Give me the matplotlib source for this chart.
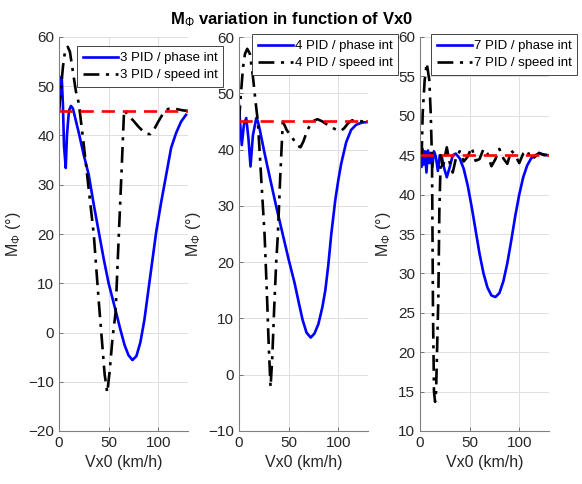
import numpy as np
import matplotlib
matplotlib.use("Agg")
import matplotlib.pyplot as plt

plt.rcParams['font.family'] = ['Liberation Sans', 'DejaVu Sans']
plt.rcParams['mathtext.fontset'] = 'custom'
plt.rcParams['mathtext.rm'] = 'Liberation Sans'
plt.rcParams['mathtext.bf'] = 'Liberation Sans:bold'
plt.rcParams['mathtext.it'] = 'Liberation Sans:italic'

# ---- data (Vx0 in km/h, M_phi in degrees) ----
x_p1_phase = [0, 1, 2.7, 4, 5, 6.8, 8, 10, 12, 14, 17, 20, 25, 30, 35, 40, 45, 50, 57, 62, 66, 70, 74,
              78, 82, 86, 90, 94, 98, 103, 108, 113, 118, 123, 128]
y_p1_phase = [45, 48, 52, 46, 38, 33.4, 40, 45, 46, 45.5, 43, 40.5, 36, 32, 26, 20.5, 15, 10, 4.5, 0.5, -2.5, -4.6, -5.6,
              -4.8, -2, 2.5, 8.5, 14.5, 20.5, 26.5, 32, 37.5, 40.5, 42.8, 44.2]
x_p1_speed = [0, 2, 4, 6, 8.8, 11, 14, 17, 20, 25, 30, 35, 40, 43, 46, 48.6, 51, 54, 57, 60.5, 63, 65.6,
              70, 75, 80, 85, 89, 92, 96, 100, 105, 110, 115, 120, 125, 130]
y_p1_speed = [45, 49.5, 54, 57, 58, 57, 53, 49, 46.5, 38, 29, 20, 6.5, -1, -8.5, -12.2, -8, -1, 4, 20.9, 32.5, 45.2,
              44, 43, 41.8, 40.8, 40.3, 40.3, 41.3, 42.8, 44.5, 45.4, 45.5, 45.3, 45.1, 45]

x_p2_phase = [0, 1, 2.8, 5, 7.3, 9.5, 11.6, 14, 17.4, 19, 21, 25, 29, 33, 38, 44, 50, 56, 60, 64, 68, 72.2,
              76, 80, 84, 87, 90, 93, 97, 100, 103, 108, 113, 118, 124, 130]
y_p2_phase = [47.9, 45, 40.8, 44.5, 45.6, 42, 37, 42.5, 45.6, 45, 43.5, 40, 36.7, 33.5, 29.5, 25, 20.5, 16.3, 13, 9.8, 7.5, 6.6,
              7.3, 9, 12, 15, 19.5, 25, 31, 34.5, 37.5, 41.3, 43.5, 44.4, 44.8, 44.9]
x_p2_speed = [0, 2, 4, 6, 8.3, 11, 14, 17, 19, 22, 25.8, 28, 30, 31.8, 33.5, 35.5, 37.5, 39.2, 41.5, 44.2,
              48, 52, 56, 59, 62, 65, 69, 74, 79, 84, 90, 96, 100, 102.6, 106, 110, 114, 118, 124, 130]
y_p2_speed = [45, 50, 54.5, 57, 57.9, 57, 53, 48, 45, 36, 24.8, 15, 5, -2.2, 3, 12, 20, 25, 35, 45,
              43.5, 42.5, 41.5, 40.7, 40.4, 41.5, 43.5, 45, 45.4, 45, 44.3, 43.7, 43.4, 43.3, 43.8, 44.7, 45.2, 45.2, 45, 45]

x_p3_phase = [0, 0.5, 1.5, 2.5, 3.5, 5, 6.5, 8, 9.5, 11, 12.5, 14, 16, 18, 20, 22, 24, 27, 30, 33, 36, 40, 44, 48,
              52, 56, 60, 64, 68, 72, 76, 80, 84, 88, 92, 96, 100, 104, 108, 112, 116, 120, 125, 129]
y_p3_phase = [45, 46.5, 43.5, 45.8, 43.8, 45.5, 42.8, 45.6, 44, 45.3, 43.5, 45.5, 44.8, 43, 45, 44.8, 43.5, 42.2, 43.5,
              45, 45.2, 44.6, 43.3, 41.2, 38.5, 35.5, 32.5, 30, 28.2, 27.2, 27, 27.5, 29, 31.3, 34.2, 37.3, 40, 42.2,
              43.7, 44.6, 45, 45.2, 45.1, 45]
x_p3_speed = [0, 1.7, 2.7, 4.7, 6.8, 9.4, 10.8, 12.1, 13.1, 14.1, 15.2, 16.2, 18.5, 19.5, 21, 23, 25, 27, 30, 33,
              36, 40, 44, 48, 52, 56, 60, 64, 68, 72, 76, 80, 84, 88, 92, 96, 100, 104, 108, 112, 116, 120, 125, 130]
y_p3_speed = [45, 45, 50.3, 54.5, 56.7, 54.5, 50.3, 44.4, 25, 15, 13.7, 15, 27, 38, 45, 43.2, 44.8, 46, 44, 42.8,
              44.5, 45.5, 44.2, 44.8, 46, 44.3, 44.5, 45.8, 45.2, 43.6, 44.5, 45.8, 44.6, 43.9, 45.6, 45, 44, 45.2,
              45.6, 44.5, 44.8, 45.3, 45, 45]

ref_x = [0, 130]
ref_y = [45, 45]

n_pid = [3, 4, 7]
ylims = [(-20, 60), (-10, 60), (10, 60)]
ysteps = [10, 10, 5]
phases = [(x_p1_phase, y_p1_phase), (x_p2_phase, y_p2_phase), (x_p3_phase, y_p3_phase)]
speeds = [(x_p1_speed, y_p1_speed), (x_p2_speed, y_p2_speed), (x_p3_speed, y_p3_speed)]

W, H = 582, 484
fig = plt.figure(figsize=(W / 100, H / 100), dpi=100)

ax_left = [59, 239, 420]
leg_pos = [(76.7, 46), (251.7, 34), (430.7, 34)]

for i in range(3):
    ax = fig.add_axes([ax_left[i] / W, 53 / H, 129 / W, 394 / H])
    l1, = ax.plot(*phases[i], color='#0000ff', lw=1.9, label=f'{n_pid[i]} PID / phase int')
    l2, = ax.plot(*speeds[i], color='black', lw=1.9, ls=(0, (6, 2.5, 1.2, 2.5)), label=f'{n_pid[i]} PID / speed int')
    ax.plot(ref_x, ref_y, color='#ff0000', lw=1.9, ls=(0, (5, 3)))
    ax.set_xlim(0, 130)
    ax.set_ylim(*ylims[i])
    ax.set_xticks([0, 50, 100])
    ax.set_yticks(np.arange(ylims[i][0], ylims[i][1] + 1, ysteps[i]))
    ax.grid(True, color='#dfdfdf', lw=0.7)
    ax.set_axisbelow(True)
    for s in ['top', 'right']:
        ax.spines[s].set_visible(False)
    for s in ['left', 'bottom']:
        ax.spines[s].set_color('#808080')
        ax.spines[s].set_linewidth(0.8)
    ax.tick_params(direction='in', length=3, width=0.6, color='#606060', labelsize=11, labelcolor='#262626')
    ax.set_xlabel('Vx0 (km/h)', fontsize=11.5, color='#262626')
    ax.set_ylabel('M$_{\\mathrm{Φ}}$ (°)', fontsize=11.5, color='#262626')
    lx, ly = leg_pos[i]
    leg = ax.legend(handles=[l1, l2], loc='upper left', bbox_to_anchor=(lx / W, 1 - ly / H),
                    bbox_transform=fig.transFigure, borderaxespad=0, fontsize=9.5, handlelength=2.65,
                    handletextpad=0.15, labelspacing=0.38, borderpad=0.45, fancybox=False, framealpha=1)
    leg.get_frame().set_edgecolor('#262626')
    leg.get_frame().set_linewidth(0.6)
    leg.set_zorder(10)

fig.text(0.5, 1 - 20 / H, '$\\mathbf{M}_{\\mathrm{Φ}}$ variation in function of Vx0', ha='center', va='center',
         fontsize=12, fontweight='bold')

fig.savefig('out.png', dpi=100)
